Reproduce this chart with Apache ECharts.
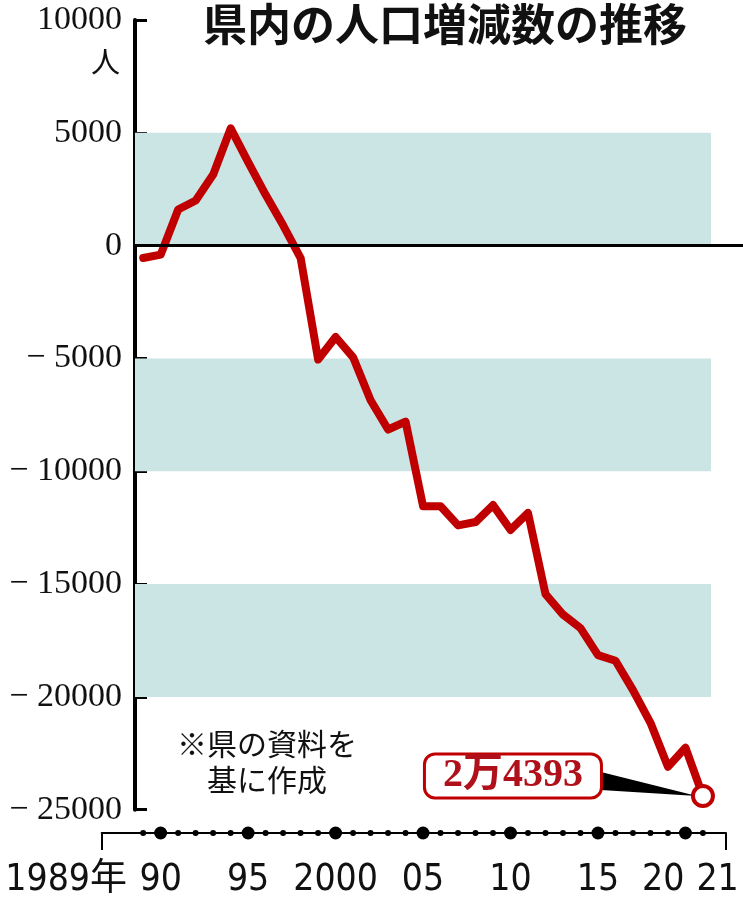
<!DOCTYPE html>
<html>
<head>
<meta charset="utf-8">
<script src="https://cdn.jsdelivr.net/npm/echarts@6/dist/echarts.min.js"></script>
<style>
  html, body { margin: 0; padding: 0; background: #fff; }
  #chart { width: 743px; height: 900px; }
</style>
</head>
<body>
<div id="chart"></div>
<script>
// 県内の人口増減数 (人)
const years = [1989, 1990, 1991, 1992, 1993, 1994, 1995, 1996, 1997, 1998, 1999,
  2000, 2001, 2002, 2003, 2004, 2005, 2006, 2007, 2008, 2009, 2010,
  2011, 2012, 2013, 2014, 2015, 2016, 2017, 2018, 2019, 2020, 2021]
const change = [-550, -400, 1600, 2000, 3150, 5200, 3700, 2250, 900, -550, -5050,
  -4050, -4950, -6850, -8150, -7800, -11550, -11550, -12400, -12250, -11500, -12600,
  -11850, -15450, -16350, -16950, -18150, -18400, -19700, -21150, -23100, -22250, -24393]

const yMin = -25000
const yMax = 10000
const yStep = 5000
const bands = [[5000, 0], [-5000, -10000], [-15000, -20000]]

const labelYears = [1989, 1990, 1995, 2000, 2005, 2010, 2015, 2020, 2021]
const labelTexts = ['1989年', '90', '95', '2000', '05', '10', '15', '20', '21']

const titleText = '県内の人口増減数の推移'
const unitText = '人'
const noteText = '※県の資料を\n基に作成'

// layout
const RED = '#c00000'
const TEAL = '#cae5e3'
const X_MIN = 1988.53
const X_MAX = 2023.29
const BAND_END = 2021.46
const T_MIN = 1986.63
const T_MAX = 2022.32
const PX_PER_YEAR = (743 - 135) / (X_MAX - X_MIN)
// "20" and "21" sit together as one label, nudged right as in print
const pairShift = 5
const n = labelYears.length
const labelValues = labelYears.slice(0, n - 1).map((y, i) => (i === n - 2 ? y + pairShift / PX_PER_YEAR : y))

const SANS_NARROW = "'Liberation Sans Narrow', 'DejaVu Sans Condensed', 'Noto Sans CJK JP', sans-serif"
const SERIF = "'Liberation Serif', 'DejaVu Serif', serif"
const CJK = "'Noto Sans CJK JP', sans-serif"

const last = years.length - 1
const xFont = { fontFamily: SANS_NARROW, fontSize: 37, color: '#111' }

function yLabel(v) {
  return v < 0 ? '− ' + Math.abs(v) : String(v)
}

function xLabel(v) {
  let i = 0
  labelValues.forEach((lv, j) => {
    if (Math.abs(lv - v) < Math.abs(labelValues[i] - v)) i = j
  })
  if (i === 0) return '{first|' + labelTexts[0] + '}'
  if (i === n - 2) return '{n|' + labelTexts[n - 2] + '}{gap| }{n|' + labelTexts[n - 1] + '}'
  return '{n|' + labelTexts[i] + '}'
}

function manLabel(p) {
  const v = Math.abs(p.value[1])
  return Math.floor(v / 10000) + '万' + (v % 10000)
}

const noteGraphic = {
  type: 'text',
  left: 272 - 95,
  top: 726,
  style: { text: noteText, font: '30px ' + CJK, fill: '#111', textAlign: 'center', lineHeight: 36, x: 95 },
}

const chart = echarts.init(document.getElementById('chart'))

chart.setOption({
  animation: false,
  backgroundColor: '#fff',
  title: {
    text: titleText,
    left: 198,
    top: -3,
    textStyle: { fontFamily: CJK, fontSize: 44, fontWeight: 'bold', color: '#111' },
  },
  grid: [
    { left: 135, right: 0, top: 20, bottom: 90.3, containLabel: false, outerBoundsMode: 'none' },
    { left: 101.7, right: 17, top: 828, height: 10, containLabel: false, outerBoundsMode: 'none' },
  ],
  xAxis: [
    { gridIndex: 0, type: 'value', min: X_MIN, max: X_MAX, show: false },
    {
      gridIndex: 1,
      type: 'value',
      min: T_MIN,
      max: T_MAX,
      axisLine: { onZero: true, lineStyle: { color: '#000', width: 2 } },
      axisTick: { show: true, customValues: [T_MIN, T_MAX], length: 17, lineStyle: { color: '#000', width: 2 } },
      splitLine: { show: false },
      axisLabel: {
        customValues: labelValues,
        margin: 24,
        showMinLabel: true,
        showMaxLabel: true,
        hideOverlap: false,
        formatter: xLabel,
        ...xFont,
        rich: {
          n: { ...xFont },
          gap: { ...xFont, width: 12 },
          first: { ...xFont, padding: [0, 154, 0, 0] },
        },
      },
    },
  ],
  yAxis: [
    {
      gridIndex: 0,
      type: 'value',
      min: yMin,
      max: yMax,
      interval: yStep,
      name: unitText,
      nameLocation: 'end',
      nameGap: -27,
      nameTextStyle: { fontFamily: "'Noto Sans CJK JP', serif", fontSize: 29, color: '#111', align: 'right', verticalAlign: 'top', padding: [0, 15, 0, 0] },
      axisLine: { show: true, lineStyle: { color: '#000', width: 4 } },
      axisTick: { show: true, inside: true, length: 12, lineStyle: { color: '#000', width: 3 } },
      splitLine: { show: false },
      axisLabel: { margin: 13, fontFamily: SERIF, fontSize: 34, color: '#111', formatter: yLabel },
    },
    { gridIndex: 1, type: 'value', min: -1, max: 1, show: false },
  ],
  graphic: [noteGraphic],
  series: [
    {
      type: 'line',
      xAxisIndex: 0,
      yAxisIndex: 0,
      z: 1,
      silent: true,
      data: years.map((y, i) => [y, change[i]]),
      symbol: 'none',
      lineStyle: { opacity: 0 },
      markArea: {
        silent: true,
        itemStyle: { color: TEAL },
        data: bands.map((b) => [{ xAxis: X_MIN, yAxis: b[0] }, { xAxis: BAND_END, yAxis: b[1] }]),
      },
      markLine: {
        silent: true,
        symbol: ['none', 'none'],
        label: { show: false },
        lineStyle: { color: '#000', width: 3, type: 'solid' },
        data: [{ yAxis: 0 }],
      },
    },
    {
      type: 'line',
      xAxisIndex: 0,
      yAxisIndex: 0,
      z: 3,
      data: years.map((y, i) => [y, change[i]]),
      symbol: 'none',
      lineStyle: { color: RED, width: 8, join: 'round', cap: 'round' },
    },
    {
      type: 'scatter',
      xAxisIndex: 0,
      yAxisIndex: 0,
      z: 5,
      data: [[years[last], change[last]]],
      symbolSize: 20,
      itemStyle: { color: '#fff', borderColor: RED, borderWidth: 4, opacity: 1 },
      label: {
        show: true,
        position: 'left',
        distance: 91,
        offset: [0, -20],
        formatter: manLabel,
        fontFamily: "'Liberation Serif', 'Noto Sans CJK JP', serif",
        fontWeight: 'bold',
        fontSize: 40,
        color: '#b0101a',
        backgroundColor: '#fff',
        borderColor: RED,
        borderWidth: 3,
        borderRadius: 9,
        padding: [1, 17, 0, 17],
      },
    },
    {
      type: 'scatter',
      xAxisIndex: 1,
      yAxisIndex: 1,
      z: 5,
      data: years.map((y) => [y, 0]),
      symbolSize: (v) => (v[0] % 5 === 0 ? 13 : 6),
      itemStyle: { color: '#000', opacity: 1 },
    },
  ],
})

// callout wedge from the box to the last point
const pt = chart.convertToPixel({ gridIndex: 0 }, [years[last], change[last]])
chart.setOption({
  graphic: [
    noteGraphic,
    {
      type: 'polygon',
      z: 4,
      shape: { points: [[pt[0] - 102, pt[1] - 24], [pt[0] - 102, pt[1] - 6], [pt[0] - 6, pt[1]]] },
      style: { fill: '#000' },
    },
  ],
})

window.addEventListener('resize', () => chart.resize())
</script>
</body>
</html>
